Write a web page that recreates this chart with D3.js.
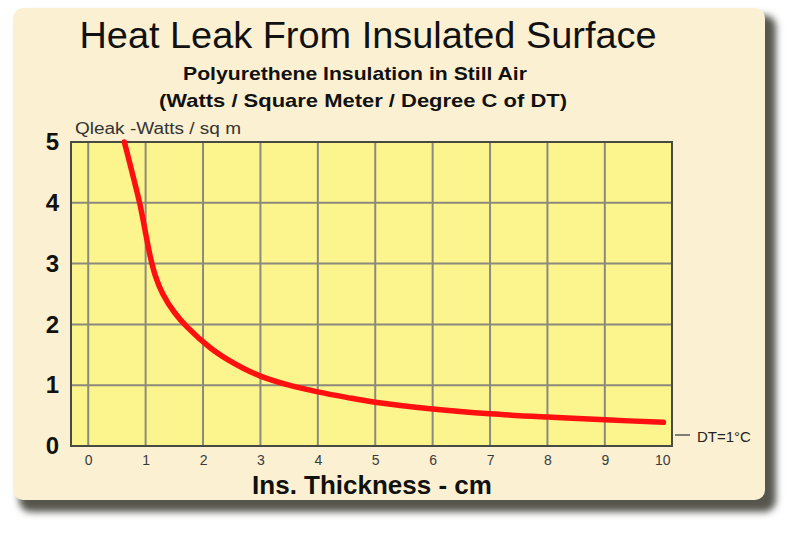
<!DOCTYPE html>
<html><head><meta charset="utf-8">
<script src="https://cdn.jsdelivr.net/npm/d3@7"></script>
<style>body{margin:0;background:#fff;}svg{display:block;}</style>
</head><body>
<svg id="chart" width="800" height="536"></svg>
<script>
const thickness = [0.63, 0.77, 0.90, 1.0, 1.08, 1.17, 1.3, 1.5, 1.73, 2.12, 2.43, 2.7, 3, 3.5, 4, 4.5, 5, 6, 7, 8, 9, 10.02];
const qleak     = [5.0, 4.48, 3.98, 3.5, 3.12, 2.8, 2.5, 2.2, 1.95, 1.62, 1.42, 1.28, 1.15, 1.0, 0.89, 0.8, 0.72, 0.61, 0.53, 0.475, 0.43, 0.39];
const xTicks = [0,1,2,3,4,5,6,7,8,9,10];
const xGrid  = [0,1,2,3,4,5,6,7,8,9];
const yTicks = [0,1,2,3,4,5];
const title = "Heat Leak From Insulated Surface";
const sub1 = "Polyurethene Insulation in Still Air";
const sub2 = "(Watts / Square Meter / Degree C of DT)";
const yLabel = "Qleak -Watts / sq m";
const xLabel = "Ins. Thickness - cm";
const legendText = "DT=1°C";

const ff = "Liberation Sans, Arial, sans-serif";
const svg = d3.select("#chart");
const defs = svg.append("defs");
const f = defs.append("filter").attr("id","blur").attr("x","-10%").attr("y","-10%").attr("width","120%").attr("height","120%");
f.append("feGaussianBlur").attr("stdDeviation",3.5);

// card shadow + card
svg.append("rect").attr("x",19).attr("y",15).attr("width",757).attr("height",497).attr("rx",12)
  .attr("fill","#57574f").attr("filter","url(#blur)");
svg.append("rect").attr("x",13).attr("y",8).attr("width",752).attr("height",492).attr("rx",10)
  .attr("fill","#fbf1d2");

const x = d3.scaleLinear().domain([-0.3, 10.17]).range([71, 672]);
const y = d3.scaleLinear().domain([0, 5]).range([446, 142]);

// plot area
svg.append("rect").attr("x",x.range()[0]).attr("y",y.range()[1])
  .attr("width",x.range()[1]-x.range()[0]).attr("height",y.range()[0]-y.range()[1])
  .attr("fill","#fcf48c");

const g = svg.append("g");
g.selectAll("line.vg").data(xGrid).join("line").attr("class","vg")
  .attr("x1",d=>x(d)).attr("x2",d=>x(d)).attr("y1",y(0)).attr("y2",y(5))
  .attr("stroke","#8c8a7c").attr("stroke-width",2);
g.selectAll("line.hg").data(yTicks.filter(d=>d>0&&d<5)).join("line").attr("class","hg")
  .attr("y1",d=>y(d)).attr("y2",d=>y(d)).attr("x1",x.range()[0]).attr("x2",x.range()[1])
  .attr("stroke","#8c8a7c").attr("stroke-width",2);

svg.append("rect").attr("x",x.range()[0]).attr("y",y.range()[1])
  .attr("width",x.range()[1]-x.range()[0]).attr("height",y.range()[0]-y.range()[1])
  .attr("fill","none").attr("stroke","#4a4a44").attr("stroke-width",2);

// curve
const data = thickness.map((t,i)=>({t, q: qleak[i]}));
svg.append("path").datum(data)
  .attr("d", d3.line().x(d=>x(d.t)).y(d=>y(d.q)).curve(d3.curveCatmullRom.alpha(0.5)))
  .attr("fill","none").attr("stroke","#ff1010").attr("stroke-width",5.5).attr("stroke-linecap","round");

// axes
const xAxis = svg.append("g").attr("transform",`translate(0,${y(0)})`)
  .call(d3.axisBottom(x).tickValues(xTicks).tickSize(0).tickPadding(9).tickFormat(d3.format("d")));
xAxis.select(".domain").remove();
xAxis.selectAll("text").attr("font-family",ff).attr("font-size",14)
  .attr("fill","#3a3a3a");

const yAxis = svg.append("g").attr("transform",`translate(${x.range()[0]},0)`)
  .call(d3.axisLeft(y).tickValues(yTicks).tickSize(0).tickPadding(12).tickFormat(d3.format("d")));
yAxis.select(".domain").remove();
yAxis.selectAll("text").attr("font-family",ff).attr("font-size",24)
  .attr("font-weight","bold").attr("fill","#111");

svg.append("text").attr("x",368).attr("y",48).attr("text-anchor","middle")
  .attr("font-family",ff).attr("font-size",36).attr("fill","#111")
  .attr("textLength",577).attr("lengthAdjust","spacingAndGlyphs").text(title);
svg.append("text").attr("x",355).attr("y",80).attr("text-anchor","middle")
  .attr("font-family",ff).attr("font-size",19).attr("font-weight","bold").attr("fill","#111")
  .attr("textLength",344).attr("lengthAdjust","spacingAndGlyphs").text(sub1);
svg.append("text").attr("x",363).attr("y",107).attr("text-anchor","middle")
  .attr("font-family",ff).attr("font-size",19).attr("font-weight","bold").attr("fill","#111")
  .attr("textLength",408).attr("lengthAdjust","spacingAndGlyphs").text(sub2);
svg.append("text").attr("x",75).attr("y",134)
  .attr("font-family",ff).attr("font-size",16).attr("fill","#333")
  .attr("textLength",166).attr("lengthAdjust","spacingAndGlyphs").text(yLabel);
svg.append("text").attr("x",372).attr("y",494).attr("text-anchor","middle")
  .attr("font-family",ff).attr("font-size",26).attr("font-weight","bold").attr("fill","#111").text(xLabel);

svg.append("line").attr("x1",675).attr("x2",690).attr("y1",435).attr("y2",435).attr("stroke","#555").attr("stroke-width",1.5);
svg.append("text").attr("x",697).attr("y",442)
  .attr("font-family",ff).attr("font-size",15).attr("fill","#222").text(legendText);
</script>
</body></html>
